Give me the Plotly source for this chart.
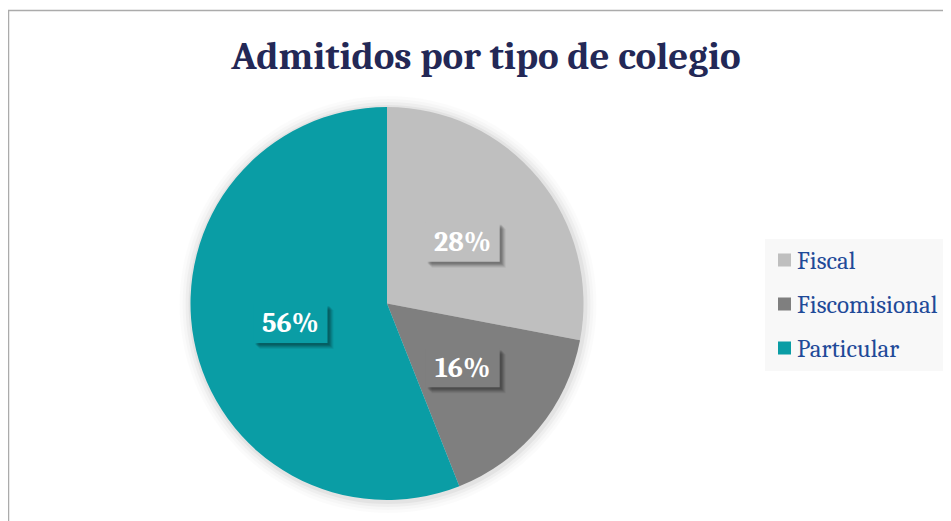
import math
import plotly.graph_objects as go

# ---- data ----
labels = ["Fiscal", "Fiscomisional", "Particular"]
values = [28, 16, 56]
pct_text = ["28%", "16%", "56%"]
colors = ["#BFBFBF", "#7F7F7F", "#0A9DA5"]
title_text = "Admitidos por tipo de colegio"

W, H = 951, 521
OX, OY = 8, 8  # page offset of the plot inside the browser window
SERIF = "Cambria, 'Liberation Serif', 'DejaVu Serif', serif"


def pxx(x):
    return (x - OX) / W


def pxy(y):
    return 1 - (y - OY) / H


# pie geometry in (screen) pixels
px0, px1 = 190, 584
py_top, py_bot = 107, 500
cx = (px0 + px1) / 2
cy = (py_top + py_bot) / 2
R = min(px1 - px0, py_bot - py_top) / 2

fig = go.Figure()
fig.add_trace(go.Pie(
    labels=labels, values=values, sort=False, direction="clockwise", rotation=0,
    marker=dict(colors=colors, line=dict(width=0)),
    textinfo="none", hoverinfo="label+percent", showlegend=False,
    domain=dict(x=[pxx(px0), pxx(px1)], y=[pxy(py_bot), pxy(py_top)]),
))

shapes = []
annotations = []

# soft shadow/glow around the pie
for dr, a in [(12, 0.015), (9, 0.02), (6, 0.03), (3, 0.045)]:
    shapes.append(dict(
        type="circle", xref="paper", yref="paper", xsizemode="pixel", ysizemode="pixel",
        xanchor=pxx(cx + 1), yanchor=pxy(cy + 1),
        x0=-(R + dr), x1=R + dr, y0=-(R + dr), y1=R + dr,
        fillcolor=f"rgba(0,0,0,{a})", line=dict(width=0), layer="below"))

# chart border
shapes.append(dict(type="rect", xref="paper", yref="paper",
                   x0=pxx(8.5), x1=1.05, y0=-0.05, y1=pxy(10.5),
                   line=dict(color="#ABABAB", width=1.5), layer="below"))

# data labels (boxed, with shadow) at half radius along each slice's mid-angle
total = sum(values)
cum = 0
for lab, v, t, c in zip(labels, values, pct_text, colors):
    mid = (cum + v / 2) / total * 2 * math.pi
    cum += v
    lx = cx + 0.5 * R * math.sin(mid)
    ly = cy - 0.5 * R * math.cos(mid) + 1.5
    bw, bh = 74, 39
    for off, a in [(6, 0.06), (5, 0.08), (4, 0.10), (3, 0.12), (2, 0.1)]:
        shapes.append(dict(
            type="rect", xref="paper", yref="paper", xsizemode="pixel", ysizemode="pixel",
            xanchor=pxx(lx), yanchor=pxy(ly),
            x0=-bw / 2 + off, x1=bw / 2 + off, y0=-bh / 2 - off, y1=bh / 2 - off,
            fillcolor=f"rgba(0,0,0,{a})", line=dict(width=0), layer="above"))
    shapes.append(dict(
        type="rect", xref="paper", yref="paper", xsizemode="pixel", ysizemode="pixel",
        xanchor=pxx(lx), yanchor=pxy(ly),
        x0=-bw / 2, x1=bw / 2, y0=-bh / 2, y1=bh / 2,
        fillcolor=c, line=dict(width=0), layer="above"))
    annotations.append(dict(
        x=pxx(lx), y=pxy(ly), xref="paper", yref="paper", text=t, showarrow=False,
        xanchor="center", yanchor="middle",
        font=dict(family=SERIF, size=28, color="white", weight="bold")))

# legend (drawn manually to match spacing)
lg_x0, lg_x1, lg_y0, lg_y1 = 765, 948, 239, 371
shapes.append(dict(type="rect", xref="paper", yref="paper",
                   x0=pxx(lg_x0), x1=pxx(lg_x1), y0=pxy(lg_y1), y1=pxy(lg_y0),
                   fillcolor="#F8F8F8", line=dict(width=0), layer="below"))
item_y = [260, 304, 348]
for lab, c, yy in zip(labels, colors, item_y):
    shapes.append(dict(type="rect", xref="paper", yref="paper",
                       x0=pxx(778), x1=pxx(791), y0=pxy(yy + 6.5), y1=pxy(yy - 6.5),
                       fillcolor=c, line=dict(width=0), layer="above"))
    annotations.append(dict(
        x=pxx(795), y=pxy(yy), xref="paper", yref="paper", text=lab, showarrow=False,
        xanchor="left", yanchor="middle",
        font=dict(family=SERIF, size=25, color="#1F4A98")))

fig.update_layout(
    width=W, height=H, margin=dict(l=0, r=0, t=0, b=0),
    paper_bgcolor="white", plot_bgcolor="white",
    title=dict(text=title_text, x=pxx(486), y=pxy(55), xanchor="center", yanchor="middle",
               font=dict(family=SERIF, size=39, color="#232856", weight="bold")),
    shapes=shapes, annotations=annotations, showlegend=False,
)

fig.write_html("out.html")
